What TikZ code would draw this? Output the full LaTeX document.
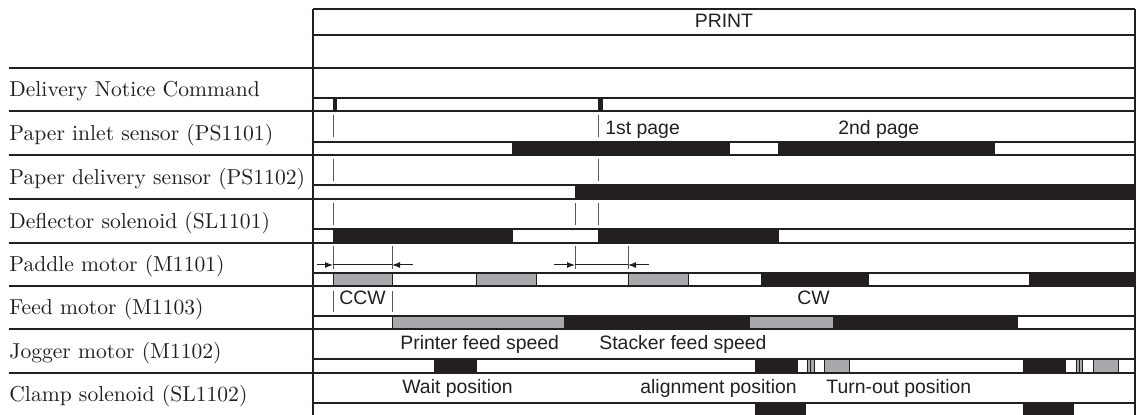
\documentclass[tikz,border=0pt]{standalone}
\usepackage{fontspec}
\setsansfont{Liberation Sans}
\usetikzlibrary{arrows.meta}
\definecolor{ink}{HTML}{231F20}
\definecolor{gry}{HTML}{A7A9AC}
\definecolor{tickc}{HTML}{58595B}
\begin{document}
\begin{tikzpicture}[x=0.5pt,y=-0.5pt,
  lbl/.style={anchor=base west, inner sep=0pt, font=\fontsize{10.8}{13}\selectfont, text=ink},
  sig/.style={anchor=base west, inner sep=0pt, font=\sffamily\fontsize{9.7}{12}\selectfont, text=ink},
  blk/.style={fill=ink, draw=none},
  gbar/.style={fill=gry, draw=ink, line width=0.5pt},
  tk/.style={draw=tickc, line width=0.5pt},
  sepl/.style={draw=ink, line width=0.6pt},
  thick frame/.style={draw=ink, line width=1pt},
  dimline/.style={draw=ink, line width=0.5pt},
  dimarrow/.style={draw=ink, line width=0.5pt, -{Latex[length=4pt,width=3pt]}}]
\useasboundingbox (0,0) rectangle (1137,415);

% ---- signal bars ----
% Delivery Notice Command
\fill[blk] (333,98) rectangle (337,111);
\fill[blk] (598,98) rectangle (603,111);
% Paper inlet sensor
\fill[blk] (512,142) rectangle (730,155);
\fill[blk] (778,142) rectangle (995,155);
% Paper delivery sensor
\fill[blk] (575,185) rectangle (1135,199);
% Deflector solenoid
\fill[blk] (333,229) rectangle (513,243);
\fill[blk] (598,229) rectangle (779,243);
% Paddle motor
\filldraw[gbar] (333,273) rectangle (392,286);
\filldraw[gbar] (476,273) rectangle (536,286);
\filldraw[gbar] (628,273) rectangle (688,286);
\fill[blk] (761,273) rectangle (869,286);
\fill[blk] (1029,273) rectangle (1135,286);
% Feed motor
\filldraw[gbar] (392,316) rectangle (564,329);
\fill[blk] (564,316) rectangle (749,329);
\filldraw[gbar] (749,316) rectangle (833,329);
\fill[blk] (833,316) rectangle (1018,329);
% Jogger motor
\fill[blk] (434,359) rectangle (477,373);
\fill[blk] (755,359) rectangle (798,373);
\filldraw[gbar] (807,359) rectangle (810.5,373);
\filldraw[gbar] (810.5,359) rectangle (814,373);
\filldraw[gbar] (824,359) rectangle (849,373);
\fill[blk] (1023,359) rectangle (1066,373);
\filldraw[gbar] (1076,359) rectangle (1079,373);
\filldraw[gbar] (1079,359) rectangle (1082,373);
\filldraw[gbar] (1093,359) rectangle (1118,373);
% Clamp solenoid
\fill[blk] (755,403) rectangle (806,416);
\fill[blk] (1023,403) rectangle (1074,416);

% ---- grid lines ----
\draw[thick frame] (313,9) -- (1135,9);
\draw[thick frame] (313,35) -- (1135,35);
\draw[sepl] (9,68) -- (1135,68);
\foreach \yb in {111,155,199,243,286,329,373}
  \draw[sepl] (9,\yb) -- (1135,\yb);
\foreach \ys in {98,142,185,229,273,316,359,403}
  \draw[sepl] (313,\ys) -- (1135,\ys);
\draw[thick frame] (313,9) -- (313,416);
\draw[sepl] (1135,9) -- (1135,416);

% ---- timing ticks ----
\foreach \x in {333,598} \draw[tk] (\x,115) -- (\x,137);
\foreach \x in {333,598} \draw[tk] (\x,159) -- (\x,181);
\foreach \x in {333,575,598} \draw[tk] (\x,203) -- (\x,225);
\foreach \x in {333,392,575,628} \draw[tk] (\x,246) -- (\x,269);
\foreach \x in {333,392} \draw[tk] (\x,291) -- (\x,312);

% ---- dimension arrows (paddle motor) ----
\coordinate (a1s) at (317,265); \coordinate (a1l) at (333,265);
\coordinate (a1r) at (392,265); \coordinate (a1e) at (413,265);
\draw[dimarrow] (a1s) -- (a1l);
\draw[dimline] (a1l) -- (a1r);
\draw[dimarrow] (a1e) -- (a1r);
\coordinate (a2s) at (554,265); \coordinate (a2l) at (575,265);
\coordinate (a2r) at (628,265); \coordinate (a2e) at (649,265);
\draw[dimarrow] (a2s) -- (a2l);
\draw[dimline] (a2l) -- (a2r);
\draw[dimarrow] (a2e) -- (a2r);

% ---- row labels ----
\node[lbl] (l1) at (9,97) {Delivery Notice Command};
\node[lbl] (l2) at (9,141) {Paper inlet sensor (PS1101)};
\node[lbl] (l3) at (9,185) {Paper delivery sensor (PS1102)};
\node[lbl] (l4) at (9,229) {Deflector solenoid (SL1101)};
\node[lbl] (l5) at (9,272) {Paddle motor (M1101)};
\node[lbl] (l6) at (9,315) {Feed motor (M1103)};
\node[lbl] (l7) at (9,359) {Jogger motor (M1102)};
\node[lbl] (l8) at (9,402) {Clamp solenoid (SL1102)};

% ---- signal texts ----
\node[sig, anchor=base] (print) at (724,28) {PRINT};
\node[sig] (p1) at (605,135) {1st page};
\node[sig] (p2) at (838,135) {2nd page};
\node[sig] (ccw) at (339,305) {CCW};
\node[sig] (cw) at (797,305) {CW};
\node[sig] (pfs) at (400,350) {Printer feed speed};
\node[sig] (sfs) at (599,350) {Stacker feed speed};
\node[sig] (wp) at (402,394) {Wait position};
\node[sig] (ap) at (640,394) {alignment position};
\node[sig] (tp) at (826,394) {Turn-out position};
\end{tikzpicture}
\end{document}
